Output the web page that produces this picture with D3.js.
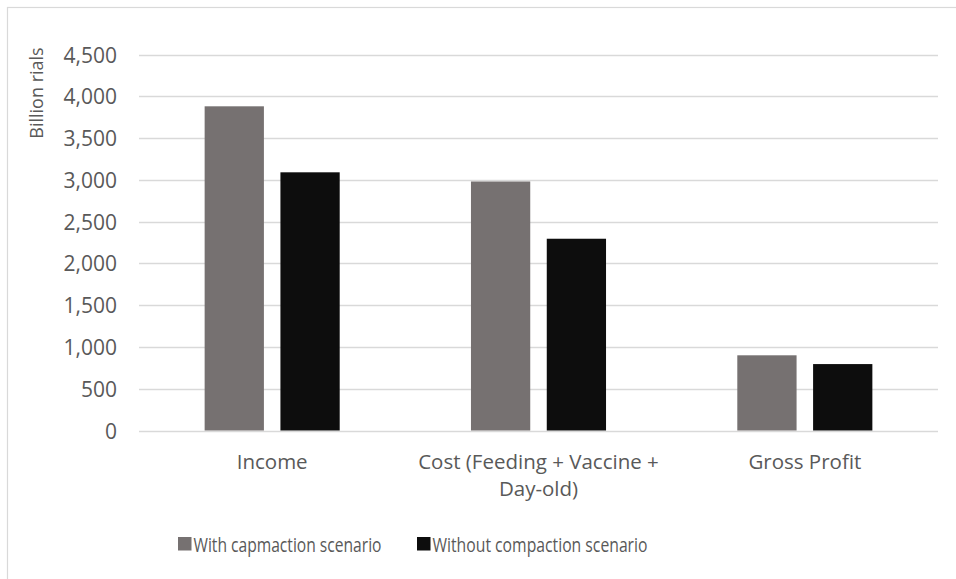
<!DOCTYPE html>
<html>
<head>
<meta charset="utf-8">
<script src="https://cdn.jsdelivr.net/npm/d3@7"></script>
<style>
  html, body { margin: 0; padding: 0; background: #ffffff; }
  svg text { font-family: "Open Sans", "Noto Sans", sans-serif; fill: #595959; }
</style>
</head>
<body>
<svg id="chart" width="956" height="579"></svg>
<script>
// Categories (each entry is a list of label lines)
const categories = ["Income", "Cost", "Gross Profit"];
const categoryLines = [["Income"], ["Cost (Feeding + Vaccine +", "Day-old)"], ["Gross Profit"]];
// Series (billion rials)
const seriesNames = ["With capmaction scenario", "Without compaction scenario"];
const withCompaction = [3880, 2980, 900];
const withoutCompaction = [3090, 2295, 795];
const seriesColors = ["#767171", "#0d0d0d"];
// Y axis ticks
const yTicks = [0, 500, 1000, 1500, 2000, 2500, 3000, 3500, 4000, 4500];

const svg = d3.select("#chart");
const plot = { left: 139, right: 938, top: 54.5, bottom: 430.5 };

// Chart area frame (right and bottom sides fall outside the canvas)
svg.append("rect")
  .attr("x", 7.5).attr("y", 7.5)
  .attr("width", 1200).attr("height", 1200)
  .attr("fill", "none").attr("stroke", "#d9d9d9").attr("stroke-width", 1.2);

const y = d3.scaleLinear().domain([0, 4500]).range([plot.bottom, plot.top]);
const x0 = d3.scaleBand().domain(categories).range([plot.left, plot.right]).padding(0);
const x1 = d3.scaleBand().domain([0, 1]).range([0, x0.bandwidth()])
  .paddingInner(0.218).paddingOuter(0.866);

// Gridlines
svg.append("g").selectAll("line").data(yTicks).join("line")
  .attr("x1", plot.left).attr("x2", plot.right)
  .attr("y1", d => Math.round(y(d)) + 0.5).attr("y2", d => Math.round(y(d)) + 0.5)
  .attr("stroke", "#d9d9d9").attr("stroke-width", 1.3);

// Y axis labels
const yAxis = d3.axisLeft(y).tickValues(yTicks).tickFormat(d3.format(",")).tickSize(0).tickPadding(0);
const gy = svg.append("g").attr("transform", `translate(${117},0)`).call(yAxis);
gy.select(".domain").remove();
gy.selectAll("text")
  .style("font-size", "21px").attr("fill", "#595959").attr("dy", "0.36em");

// Y axis title
svg.append("text")
  .attr("transform", `translate(43,93) rotate(-90)`)
  .attr("text-anchor", "middle")
  .style("font-size", "18px")
  .text("Billion rials");

// Bars
const data = categories.map((c, i) => ({ c, vals: [withCompaction[i], withoutCompaction[i]] }));
const groups = svg.append("g").selectAll("g").data(data).join("g")
  .attr("transform", d => `translate(${x0(d.c)},0)`);
groups.selectAll("rect").data(d => d.vals.map((v, s) => ({ v, s }))).join("rect")
  .attr("x", d => x1(d.s))
  .attr("width", x1.bandwidth())
  .attr("y", d => y(d.v))
  .attr("height", d => y(0) - y(d.v))
  .attr("fill", d => seriesColors[d.s]);

// Category labels
const cat = svg.append("g").selectAll("text").data(categories).join("text")
  .attr("text-anchor", "middle")
  .attr("x", d => x0(d) + x0.bandwidth() / 2)
  .attr("y", 469)
  .style("font-size", "20.5px");
cat.selectAll("tspan").data((d, i) => categoryLines[i]).join("tspan")
  .attr("x", function () { return d3.select(this.parentNode).attr("x"); })
  .attr("dy", (d, j) => j === 0 ? 0 : 27)
  .text(d => d);

// Legend
const legendItems = [
  { name: seriesNames[0], color: seriesColors[0], x: 178, len: 188 },
  { name: seriesNames[1], color: seriesColors[1], x: 417, len: 215 }
];
const lg = svg.append("g").selectAll("g").data(legendItems).join("g")
  .attr("transform", d => `translate(${d.x},0)`);
lg.append("rect").attr("x", 0).attr("y", 537).attr("width", 13.5).attr("height", 13.5)
  .attr("fill", d => d.color);
lg.append("text").attr("x", 15.5).attr("y", 551.5)
  .style("font-size", "19.5px")
  .attr("textLength", d => d.len)
  .attr("lengthAdjust", "spacingAndGlyphs")
  .text(d => d.name);
</script>
</body>
</html>
